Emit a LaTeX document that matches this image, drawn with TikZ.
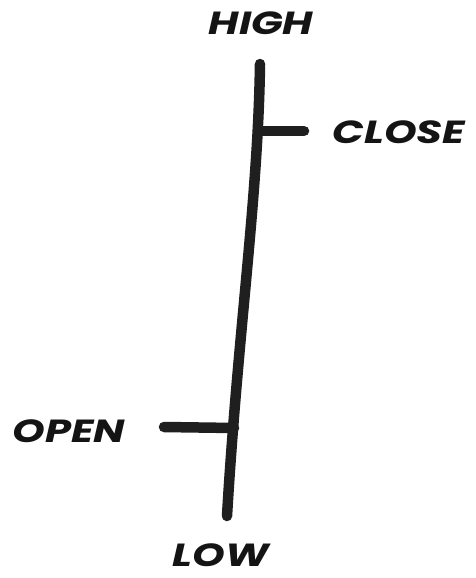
\documentclass[tikz,border=0pt]{standalone}
\usepackage{fontspec}
\setmainfont{Poppins}
\begin{document}
\begin{tikzpicture}[x=1pt,y=-1pt,
  lbl/.style={font=\fontsize{32}{32}\selectfont\bfseries\itshape, inner sep=0pt, text=black!92, xscale=1.3},
  stroke/.style={line width=10.5pt, line cap=round, draw=black!88}]
\useasboundingbox (0,0) rectangle (475,578);
\coordinate (hi) at (260,64);
\coordinate (lo) at (227,516);
\coordinate (cl) at (258,131);
\coordinate (clend) at (304,131);
\coordinate (op) at (234,428);
\coordinate (opend) at (164,427);
\draw[stroke] (hi) .. controls (258,200) and (238,330) .. (lo);
\draw[stroke] (cl) -- (clend);
\draw[stroke] (opend) -- (op);
\node[lbl] (high) at (261,23) {HIGH};
\node[lbl] (close) at (399,132) {CLOSE};
\node[lbl] (open) at (69,431) {OPEN};
\node[lbl] (low) at (221,555) {LOW};
\end{tikzpicture}
\end{document}
